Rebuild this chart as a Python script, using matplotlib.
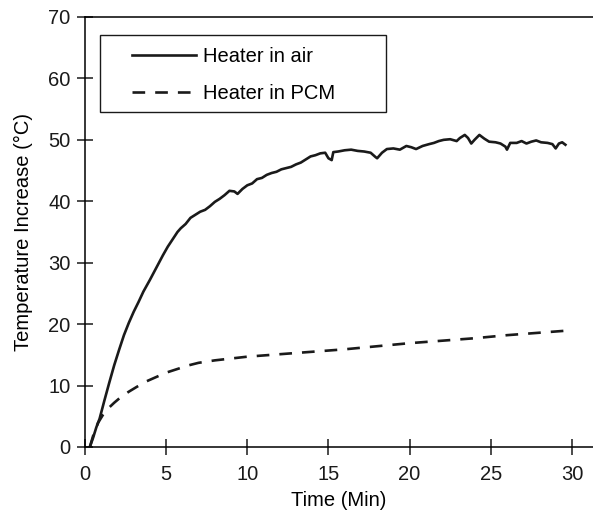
import numpy as np
import matplotlib.pyplot as plt
from matplotlib.patches import Rectangle

plt.rcParams['font.family'] = ['Liberation Sans', 'DejaVu Sans']

# heater in air (min / deg C)
air_t = [0.3, 0.5, 0.7, 0.9, 1.2, 1.5, 1.8, 2.1, 2.4, 2.7, 3.0, 3.3, 3.6, 4.0, 4.4,
         4.8, 5.1, 5.4, 5.7, 5.9, 6.2, 6.5, 6.8, 7.1, 7.4, 7.7, 8.0, 8.3, 8.6, 8.9,
         9.2, 9.4, 9.7, 10.0, 10.3, 10.6, 10.9, 11.2, 11.5, 11.8, 12.1, 12.4, 12.7,
         13.0, 13.3, 13.6, 13.9, 14.2, 14.5, 14.8, 15.0, 15.2, 15.3, 15.6, 16.0,
         16.4, 16.8, 17.2, 17.6, 17.9, 18.0, 18.3, 18.6, 19.0, 19.4, 19.8, 20.1,
         20.4, 20.8, 21.2, 21.5, 21.8, 22.1, 22.5, 22.9, 23.1, 23.4, 23.6, 23.8,
         24.0, 24.3, 24.6, 24.9, 25.3, 25.6, 25.9, 26.0, 26.2, 26.6, 26.9, 27.2,
         27.5, 27.8, 28.1, 28.5, 28.8, 29.0, 29.2, 29.4, 29.6]
air_T = [0.0, 1.5, 3.2, 4.6, 7.6, 10.5, 13.3, 15.8, 18.2, 20.2, 22.0, 23.6, 25.3, 27.2, 29.2,
         31.2, 32.6, 33.8, 35.0, 35.6, 36.3, 37.3, 37.8, 38.3, 38.6, 39.2, 39.9, 40.4, 41.0, 41.7,
         41.6, 41.2, 42.0, 42.6, 42.9, 43.6, 43.8, 44.3, 44.6, 44.8, 45.2, 45.4, 45.6,
         46.0, 46.3, 46.8, 47.3, 47.5, 47.8, 47.9, 47.0, 46.7, 48.0, 48.1, 48.3,
         48.4, 48.2, 48.1, 47.9, 47.2, 47.0, 47.9, 48.5, 48.6, 48.4, 49.0, 48.8,
         48.5, 49.0, 49.3, 49.5, 49.8, 50.0, 50.1, 49.8, 50.3, 50.8, 50.3, 49.4,
         50.0, 50.8, 50.2, 49.7, 49.6, 49.4, 48.9, 48.4, 49.5, 49.5, 49.8, 49.4,
         49.7, 49.9, 49.6, 49.5, 49.3, 48.6, 49.4, 49.6, 49.2]

# heater in PCM
pcm_t = [0.3, 0.5, 0.8, 1.1, 1.4, 1.8, 2.2, 2.7, 3.2, 3.8, 4.4, 5.0, 5.7, 6.4, 7.0,
         8.0, 9.0, 10.0, 12.0, 14.0, 16.0, 18.0, 20.0, 22.0, 24.0, 26.0, 28.0, 29.5]
pcm_T = [0.0, 1.8, 3.9, 5.2, 6.2, 7.2, 8.1, 9.0, 9.8, 10.7, 11.4, 12.1, 12.7, 13.3, 13.7,
         14.1, 14.4, 14.7, 15.1, 15.5, 15.9, 16.4, 16.9, 17.3, 17.7, 18.2, 18.6, 18.9]

labels = ['Heater in air', 'Heater in PCM']
fs = 14.5

fig = plt.figure(figsize=(5.93, 5.13), dpi=100)
ax = fig.add_axes([0.1433, 0.1287, 0.8567, 0.8382])

ax.plot(air_t, air_T, color='#1a1a1a', lw=1.9, label=labels[0])
ax.plot(pcm_t, pcm_T, color='#1a1a1a', lw=1.9, dashes=(4.8, 3.8), label=labels[1])

ax.set_xlim(0, 31.3)
ax.set_ylim(0, 70)
ax.set_xticks(range(0, 31, 5))
ax.set_yticks(range(0, 71, 10))
ax.spines['right'].set_visible(False)
for s in ['left', 'bottom', 'top']:
    ax.spines[s].set_linewidth(1.1)
ax.tick_params(direction='inout', length=12, width=1.1, labelsize=fs, colors='#1a1a1a')
ax.tick_params(axis='x', pad=7)
ax.tick_params(axis='y', pad=4.5)

ax.set_xlabel('Time (Min)', fontsize=fs, labelpad=5)
ax.set_ylabel('Temperature Increase (\u00b0C)', fontsize=fs, labelpad=11)

# legend box drawn separately so its width matches the original
ax.add_patch(Rectangle((0.0295, 0.779), 0.563, 0.179, transform=ax.transAxes,
                       fill=False, edgecolor='#1a1a1a', lw=1.0, zorder=5))
ax.legend(loc='upper left', bbox_to_anchor=(0.0925, 0.93), borderaxespad=0,
          borderpad=0, fontsize=fs, handlelength=3.2, handletextpad=0.35,
          labelspacing=0.9, frameon=False)

fig.savefig('out.png', dpi=100)
